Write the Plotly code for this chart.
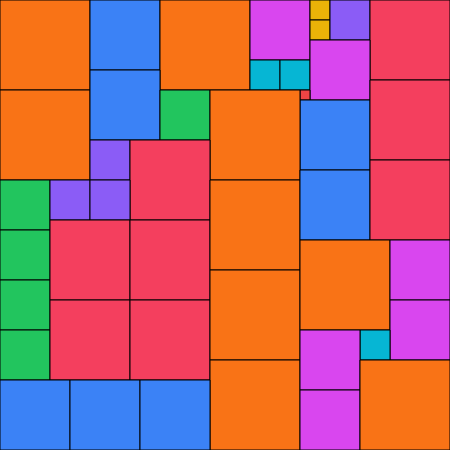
import plotly.graph_objects as go

# square packing: left x, top y, side length (pixels in a 450x450 field)
xs = [0, 90, 160, 250, 310, 310, 330, 370, 250, 280, 310, 300, 300, 370,
      0, 90, 160, 210, 90, 130, 0, 0, 0, 0, 50, 90, 50, 130, 50, 130,
      210, 210, 210, 300, 370, 300, 390, 390, 360, 300, 300, 360, 0, 70, 140]
ys = [0, 0, 0, 0, 0, 20, 0, 0, 60, 60, 40, 90, 100, 80,
      90, 70, 90, 90, 140, 140, 180, 230, 280, 330, 180, 180, 220, 220, 300, 300,
      180, 270, 360, 170, 160, 240, 240, 300, 330, 330, 390, 360, 380, 380, 380]
sizes = [90, 70, 90, 60, 20, 20, 40, 80, 30, 30, 60, 10, 70, 80,
         90, 70, 50, 90, 40, 80, 50, 50, 50, 50, 40, 40, 80, 80, 80, 80,
         90, 90, 90, 70, 80, 90, 60, 60, 30, 60, 60, 90, 70, 70, 70]

size_colors = {90: "#f97316", 80: "#f43f5e", 70: "#3b82f6", 60: "#d946ef",
               50: "#22c55e", 40: "#8b5cf6", 30: "#06b6d4", 20: "#eab308",
               10: "#ef4444"}

fig = go.Figure()
for x, y, s in zip(xs, ys, sizes):
    fig.add_trace(go.Scatter(
        x=[x, x + s, x + s, x, x], y=[y, y, y + s, y + s, y],
        mode="lines", fill="toself", fillcolor=size_colors[s],
        line=dict(color="black", width=1), hoverinfo="skip", showlegend=False))

fig.update_xaxes(range=[0, 450], visible=False, fixedrange=True)
fig.update_yaxes(range=[450, 0], visible=False, fixedrange=True)
fig.update_layout(width=450, height=450, margin=dict(l=0, r=0, t=0, b=0),
                  plot_bgcolor="white", paper_bgcolor="white")
fig.write_html("out.html", config={"displayModeBar": False},
               post_script="document.body.style.margin='0';"
                           "document.body.style.overflow='hidden';")
